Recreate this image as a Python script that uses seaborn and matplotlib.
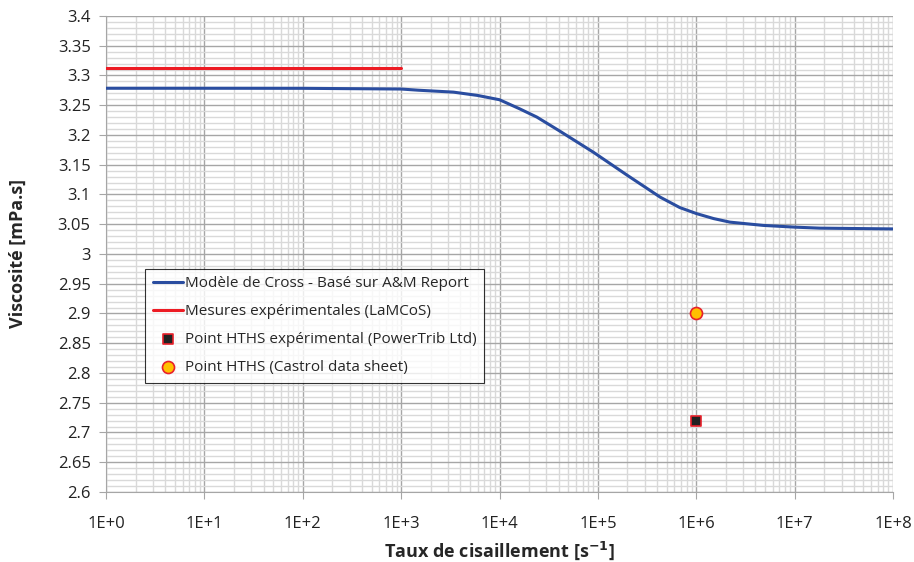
import numpy as np
import pandas as pd
import matplotlib
matplotlib.use("Agg")
import matplotlib.pyplot as plt
from matplotlib.ticker import LogLocator, MultipleLocator, FuncFormatter
import seaborn as sns

# Cross model curve
shear_rate = [1e0, 1e1, 1e2, 1e3, 1.5e3, 3.4e3, 6e3, 1e4, 1.6e4, 2.4e4, 4e4,
              9e4, 2e5, 4.3e5, 6.8e5, 1e6, 1.5e6, 2.2e6, 4.8e6, 1e7,
              1.8e7, 1e8]
visc_cross = [3.2785, 3.2785, 3.2784, 3.2772, 3.2752, 3.2720, 3.2664, 3.2592,
              3.2440, 3.2300, 3.2076, 3.1710, 3.1320, 3.0955, 3.0780,
              3.0680, 3.0595, 3.0535, 3.0480, 3.0451, 3.0434, 3.0421]

# LaMCoS measurements
shear_lamcos = [1e0, 1e3]
visc_lamcos = [3.312, 3.312]

# HTHS points
shear_hths = [1e6]
visc_powertrib = [2.72]
visc_castrol = [2.90]

df_cross = pd.DataFrame({"x": shear_rate, "y": visc_cross})
df_lam = pd.DataFrame({"x": shear_lamcos, "y": visc_lamcos})
df_pt = pd.DataFrame({"x": shear_hths, "y": visc_powertrib})
df_ca = pd.DataFrame({"x": shear_hths, "y": visc_castrol})

sns.set_style("white")
plt.rcParams["font.family"] = ["Open Sans", "DejaVu Sans"]

fig = plt.figure(figsize=(9.14, 5.62), dpi=100)
ax = fig.add_axes([0.116, 0.1246, 0.861, 0.847])

sns.lineplot(data=df_cross, x="x", y="y", ax=ax, color="#2A4DA0", lw=2.2,
             label="Modèle de Cross - Basé sur A&M Report", zorder=4)
sns.lineplot(data=df_lam, x="x", y="y", ax=ax, color="#ED1C24", lw=2.2,
             label="Mesures expérimentales (LaMCoS)", zorder=4)
sns.scatterplot(data=df_pt, x="x", y="y", ax=ax, marker="s", s=55,
                color="#222222", edgecolor="#E8202A", linewidth=1.2,
                label="Point HTHS expérimental (PowerTrib Ltd)", zorder=5)
sns.scatterplot(data=df_ca, x="x", y="y", ax=ax, marker="o", s=75,
                color="#FFC000", edgecolor="#E8202A", linewidth=1.2,
                label="Point HTHS (Castrol data sheet)", zorder=5)

ax.set_xscale("log")
ax.set_xlim(1, 1e8)
ax.set_ylim(2.6, 3.4)
ax.xaxis.set_major_locator(LogLocator(base=10, numticks=20))
ax.xaxis.set_minor_locator(LogLocator(base=10, subs=np.arange(2, 10), numticks=100))
ax.xaxis.set_major_formatter(FuncFormatter(lambda v, p: "1E+%d" % round(np.log10(v))))
ax.yaxis.set_major_locator(MultipleLocator(0.05))
ax.yaxis.set_minor_locator(MultipleLocator(0.01))
ax.yaxis.set_major_formatter(FuncFormatter(lambda v, p: ("%.2f" % v).rstrip("0").rstrip(".")))

ax.grid(which="major", color="#A6A6A6", lw=1.0, zorder=0)
ax.grid(which="minor", color="#D9D9D9", lw=1.0, zorder=0)
ax.set_axisbelow(True)
for side in ["left", "bottom"]:
    ax.spines[side].set_color("#A6A6A6")
for side in ["top", "right"]:
    ax.spines[side].set_visible(False)

ax.tick_params(which="major", direction="out", length=5, color="#A6A6A6",
               labelsize=12, labelcolor="#222222", bottom=True, left=True, pad=6)
ax.tick_params(which="minor", length=0)
ax.tick_params(axis="x", pad=12)

ax.set_xlabel(r"Taux de cisaillement [s$\mathbf{^{-1}}$]", fontsize=13,
              fontweight="bold", labelpad=6)
ax.set_ylabel("Viscosité [mPa.s]", fontsize=13, fontweight="bold", labelpad=22)

leg = ax.legend(loc="upper left", bbox_to_anchor=(0.04, 0.485), fontsize=11,
                frameon=True, fancybox=False, edgecolor="black",
                borderpad=0.5, labelspacing=0.85, handlelength=2.0,
                handletextpad=0.1)
leg.get_frame().set_linewidth(0.8)
leg.set_zorder(10)

fig.savefig("out.png", dpi=100)
